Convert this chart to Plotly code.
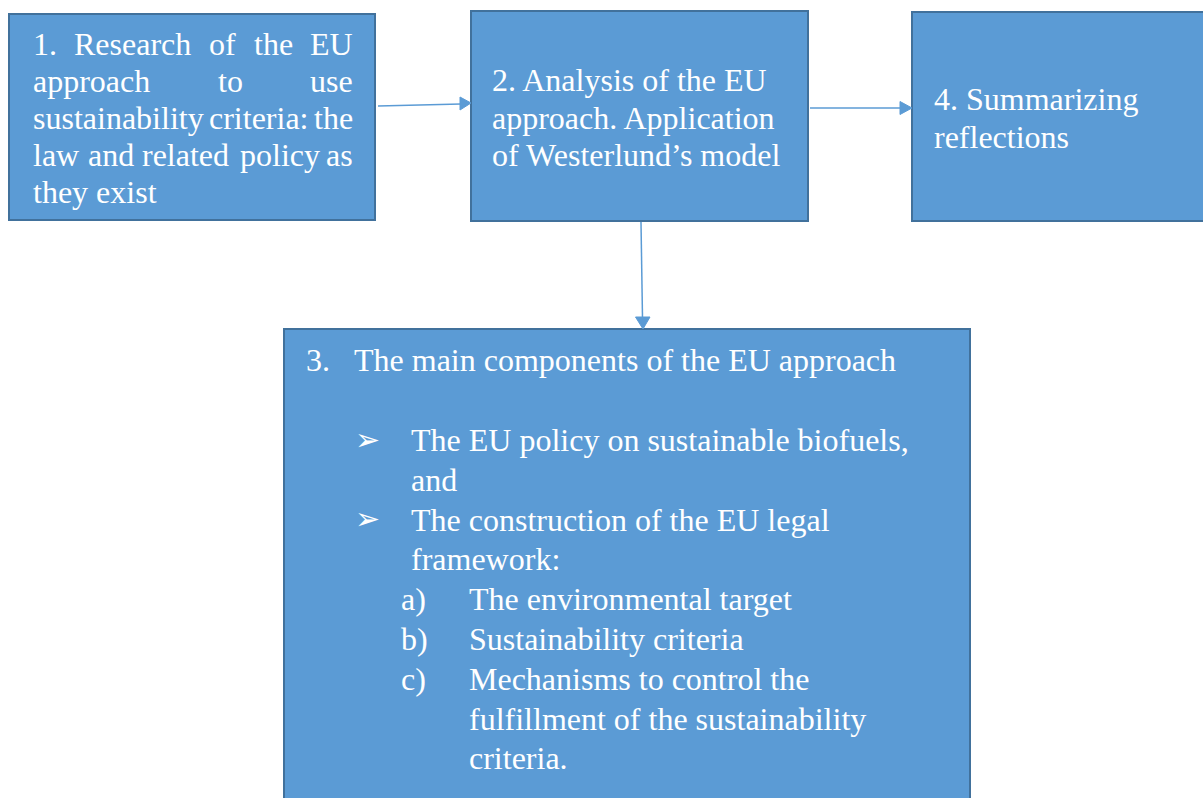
import plotly.graph_objects as go

# ---- content ----
box1_lines = [
    ["1.", "Research", "of", "the", "EU"],
    ["approach", "to", "use"],
    ["sustainability", "criteria:", "the"],
    ["law", "and", "related", "policy", "as"],
    ["they exist"],
]
box2_lines = ["2. Analysis of the EU", "approach. Application", "of Westerlund\u2019s model"]
box4_lines = ["4. Summarizing", "reflections"]
box3_title = ["3.", "The main components of the EU approach"]
box3_bullets = [
    ["The EU policy on sustainable biofuels,", "and"],
    ["The construction of the EU legal", "framework:"],
]
box3_sub_labels = ["a)", "b)", "c)"]
box3_sub_items = [
    ["The environmental target"],
    ["Sustainability criteria"],
    ["Mechanisms to control the", "fulfillment of the sustainability", "criteria."],
]

FILL = "#5B9BD5"
EDGE = "#41719C"
FONT = dict(family="Liberation Serif, Times New Roman, serif", size=32, color="white")

fig = go.Figure()
shapes = []
ann = []

def box(x0, y0, x1, y1, open_right=False, open_bottom=False):
    shapes.append(dict(type="rect", x0=x0, y0=y0, x1=x1, y1=y1,
                       fillcolor=FILL, line=dict(width=0), layer="below"))
    if open_right:
        p = f"M {x1} {y0} L {x0} {y0} L {x0} {y1} L {x1} {y1}"
    elif open_bottom:
        p = f"M {x0} {y1} L {x0} {y0} L {x1} {y0} L {x1} {y1}"
    else:
        p = f"M {x0} {y0} L {x1} {y0} L {x1} {y1} L {x0} {y1} Z"
    shapes.append(dict(type="path", path=p, line=dict(color=EDGE, width=2), layer="below"))

def text(x, y, s, anchor="left", f=FONT):
    ann.append(dict(x=x, y=y, text=s, showarrow=False, xanchor=anchor, yanchor="middle",
                    font=f, xref="x", yref="y"))

def arrow(xs, ys, xe, ye, head):
    shapes.append(dict(type="line", x0=xs, y0=ys, x1=xe, y1=ye,
                       line=dict(color=FILL, width=1.5)))
    shapes.append(dict(type="path", path=head, fillcolor=FILL, line=dict(color=FILL, width=1)))

box(9, 14, 375, 220)
box(471, 11, 808, 221)
box(912, 12, 1215, 221, open_right=True)
box(284, 329, 970, 815, open_bottom=True)

arrow(378, 106, 461, 104, "M 460 97 L 471 103 L 460 110 Z")
arrow(810, 108, 901, 108, "M 900 101.5 L 912 108 L 900 114.5 Z")
arrow(641, 222, 642.5, 318, "M 635.5 317 L 650 317 L 643 329 Z")

# Box 1 (justified text)
y1s = [44, 81, 118, 155, 192]
word_x = [
    [31, 72, 207, 252, 355],
    [31, 216, 355],
    [31, 207, 355],
    [31, 86, 140, 238, 355],
    [31],
]
for li, (words, xs) in enumerate(zip(box1_lines, word_x)):
    for wi, (w, x) in enumerate(zip(words, xs)):
        anchor = "right" if (wi == len(words) - 1 and len(words) > 1) else "left"
        text(x, y1s[li], w, anchor)

# Box 2
for i, s in enumerate(box2_lines):
    text(490, 80 + 37.5 * i, s)

# Box 4
for i, s in enumerate(box4_lines):
    text(932, 99 + 37.5 * i, s)

# Box 3
text(304, 360, box3_title[0])
text(352, 360, box3_title[1])
y = 440
for b in box3_bullets:
    text(353, y - 1, "\u27A2", f=dict(family="DejaVu Sans", size=30, color="white"))
    for line in b:
        text(409, y, line)
        y += 39.8
for lab, item in zip(box3_sub_labels, box3_sub_items):
    text(399, y, lab)
    for line in item:
        text(467, y, line)
        y += 39.8

fig.update_layout(
    width=1203, height=798,
    margin=dict(l=0, r=0, t=0, b=0),
    paper_bgcolor="white", plot_bgcolor="white",
    xaxis=dict(range=[0, 1203], visible=False, fixedrange=True),
    yaxis=dict(range=[798, 0], visible=False, fixedrange=True),
    shapes=shapes, annotations=ann, showlegend=False,
)
fig.write_html("out.html", config={"displayModeBar": False},
               post_script="document.body.style.margin='0';document.body.style.overflow='hidden';")
